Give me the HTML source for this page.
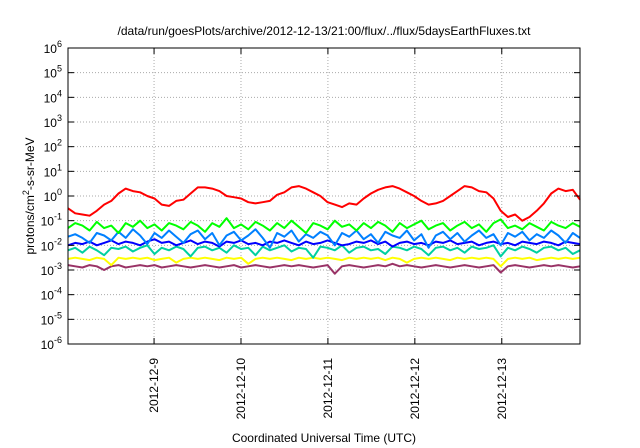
<!DOCTYPE html>
<html><head><meta charset="utf-8"><style>
body{margin:0;background:#fff}
svg{display:block;font-family:"Liberation Sans",sans-serif}
</style></head><body>
<svg id="chart" width="640" height="448">
<text x="324" y="35" text-anchor="middle" font-size="12">/data/run/goesPlots/archive/2012-12-13/21:00/flux/../flux/5daysEarthFluxes.txt</text>
<g id="grid"></g><g id="series"></g><g id="axes"></g>
<text x="324" y="442" text-anchor="middle" font-size="12">Coordinated Universal Time (UTC)</text>
<text transform="translate(34,196) rotate(-90)" text-anchor="middle" font-size="12">protons/cm<tspan dy="-5" font-size="9">2</tspan><tspan dy="5">-s-sr-MeV</tspan></text>
</svg>
<script>
const dayLabels=["2012-12-9","2012-12-10","2012-12-11","2012-12-12","2012-12-13"];
const dayValues=[1,2,3,4,5];
const decades=[-6,-5,-4,-3,-2,-1,0,1,2,3,4,5,6];
const tStart=0.01, tEnd=5.9;
const red=[-0.5,-0.7,-0.75,-0.8,-0.6,-0.35,-0.2,0.1,0.3,0.2,0.15,0.0,-0.1,-0.35,-0.4,-0.2,-0.15,0.1,0.35,0.35,0.3,0.2,0.0,-0.05,-0.1,-0.25,-0.3,-0.25,-0.2,0.05,0.15,0.35,0.4,0.3,0.15,0.0,-0.25,-0.35,-0.45,-0.3,-0.35,-0.1,0.1,0.25,0.35,0.4,0.3,0.15,0.0,-0.2,-0.35,-0.3,-0.2,0.0,0.2,0.4,0.35,0.2,0.15,-0.1,-0.6,-0.85,-0.75,-1.0,-0.85,-0.6,-0.3,0.1,0.3,0.2,0.25,-0.15];
const green=[-1.3,-1.1,-1.2,-1.4,-1.05,-1.3,-1.2,-1.5,-1.1,-1.25,-1.0,-1.3,-1.15,-1.4,-1.1,-1.2,-1.35,-1.05,-1.2,-1.45,-1.1,-1.25,-0.9,-1.3,-1.15,-1.35,-1.05,-1.2,-1.4,-1.1,-1.3,-1.0,-1.25,-1.5,-1.1,-1.2,-1.35,-1.0,-1.25,-1.15,-1.4,-1.1,-1.3,-1.05,-1.2,-1.45,-1.1,-1.3,-1.15,-1.0,-1.35,-1.2,-1.1,-1.4,-1.2,-1.05,-1.3,-1.15,-1.45,-1.1,-0.95,-1.3,-1.2,-1.35,-1.1,-1.25,-1.4,-1.05,-1.2,-1.3,-1.1,-1.25];
const lightBlue=[-1.65,-1.55,-1.7,-1.9,-1.5,-1.6,-1.8,-1.45,-1.7,-1.35,-1.6,-1.95,-1.5,-1.7,-1.4,-1.65,-1.9,-1.55,-1.4,-1.75,-1.5,-2.0,-1.6,-1.45,-1.8,-1.6,-1.35,-1.7,-2.1,-1.5,-1.65,-1.4,-1.85,-1.55,-1.7,-1.45,-1.6,-2.0,-1.5,-1.65,-1.4,-1.75,-1.55,-1.9,-1.45,-1.6,-1.7,-1.4,-1.8,-1.55,-2.1,-1.6,-1.45,-1.75,-1.5,-1.85,-1.6,-1.4,-1.7,-1.55,-2.0,-1.5,-1.65,-1.45,-1.8,-1.55,-1.7,-1.4,-1.6,-1.9,-1.5,-1.7];
const blue=[-2.0,-1.9,-1.95,-1.85,-2.0,-1.9,-1.8,-1.95,-1.85,-1.9,-2.0,-1.85,-1.75,-1.9,-1.85,-2.0,-1.9,-1.8,-1.95,-1.85,-1.9,-2.05,-1.85,-1.9,-1.8,-1.95,-1.9,-2.0,-1.85,-1.9,-1.8,-1.9,-2.0,-1.85,-1.95,-1.9,-1.8,-1.9,-2.0,-1.95,-1.85,-1.9,-1.8,-1.95,-1.85,-2.05,-1.9,-1.85,-1.95,-1.9,-2.0,-1.85,-1.9,-1.8,-1.95,-1.9,-1.85,-2.0,-1.9,-1.85,-1.95,-1.9,-2.0,-1.85,-1.9,-1.95,-1.85,-1.9,-2.0,-1.85,-1.9,-1.95];
const teal=[-2.2,-2.1,-2.3,-2.05,-2.2,-2.4,-2.1,-2.15,-2.05,-2.25,-2.1,-2.0,-2.35,-2.1,-2.2,-2.05,-2.15,-2.45,-2.1,-2.05,-2.2,-2.1,-2.3,-2.0,-2.15,-2.1,-2.4,-2.05,-2.2,-2.1,-2.0,-2.25,-2.1,-2.15,-2.5,-2.05,-2.1,-2.2,-2.0,-2.3,-2.1,-2.05,-2.2,-2.15,-2.35,-2.05,-2.1,-2.2,-2.05,-2.15,-2.4,-2.1,-2.05,-2.2,-2.1,-2.3,-2.05,-2.15,-2.1,-2.0,-2.45,-2.1,-2.2,-2.05,-2.15,-2.3,-2.1,-2.05,-2.2,-2.1,-2.35,-2.2];
const yellow=[-2.55,-2.5,-2.55,-2.6,-2.5,-2.55,-2.8,-2.5,-2.55,-2.5,-2.55,-2.5,-2.6,-2.55,-2.5,-2.7,-2.55,-2.5,-2.55,-2.5,-2.55,-2.6,-2.5,-2.55,-2.5,-2.75,-2.55,-2.5,-2.55,-2.5,-2.55,-2.6,-2.5,-2.55,-2.5,-2.55,-2.5,-2.55,-2.6,-2.5,-2.55,-2.5,-2.55,-2.5,-2.6,-2.5,-2.55,-2.7,-2.55,-2.5,-2.55,-2.5,-2.55,-2.6,-2.5,-2.55,-2.5,-2.55,-2.5,-2.55,-2.85,-2.55,-2.5,-2.55,-2.5,-2.6,-2.55,-2.5,-2.55,-2.5,-2.55,-2.5];
const purple=[-2.8,-2.85,-2.9,-2.8,-2.85,-3.0,-2.85,-2.8,-2.9,-2.85,-2.8,-2.85,-2.8,-2.9,-2.85,-2.8,-2.85,-2.9,-2.85,-2.8,-2.85,-2.9,-2.85,-2.8,-2.9,-2.85,-2.8,-2.85,-2.9,-2.85,-2.8,-2.85,-2.8,-2.85,-2.9,-2.85,-2.8,-3.15,-2.85,-2.8,-2.85,-2.9,-2.85,-2.8,-2.85,-2.75,-2.85,-2.8,-2.85,-2.9,-2.85,-2.8,-2.85,-2.9,-2.85,-2.8,-2.85,-2.9,-2.85,-2.8,-3.1,-2.85,-2.8,-2.85,-2.9,-2.85,-2.8,-2.85,-2.8,-2.85,-2.9,-2.85];
const L=68,R=580,T=48,B=344;
const NS="http://www.w3.org/2000/svg";
function xs(t){return L+(t-tStart)/(tEnd-tStart)*(R-L);}
function ys(lg){return B-(lg+6)/12*(B-T);}
function mk(tag,attrs,parent){const e=document.createElementNS(NS,tag);for(const k in attrs)e.setAttribute(k,attrs[k]);parent.appendChild(e);return e;}
const grid=document.getElementById('grid'),axes=document.getElementById('axes'),ser=document.getElementById('series');
decades.forEach(d=>{const y=ys(d);
 if(d>-6&&d<6){const g=mk('line',{x1:L,x2:R,y1:y,y2:y,stroke:'#aaa','stroke-dasharray':'1,2','stroke-width':1},grid);
 
 }
 mk('line',{x1:L,x2:L+6,y1:y,y2:y,stroke:'#000'},axes);
 mk('line',{x1:R-6,x2:R,y1:y,y2:y,stroke:'#000'},axes);
 const tx=mk('text',{x:L-6,y:y+5,'text-anchor':'end','font-size':12},axes);
 
 
 tx.innerHTML='10<tspan dy="-6" font-size="9">'+d+'</tspan>';
});
dayValues.forEach((d,i)=>{const x=xs(d);
 const g=mk('line',{x1:x,x2:x,y1:T,y2:B,stroke:'#aaa','stroke-dasharray':'1,2'},grid);
 
 
 mk('line',{x1:x,x2:x,y1:B-6,y2:B,stroke:'#000'},axes);
 mk('line',{x1:x,x2:x,y1:T,y2:T+6,stroke:'#000'},axes);
 const tx=mk('text',{transform:'translate('+(x+4)+','+(B+14)+') rotate(-90)','text-anchor':'end','font-size':12},axes);
 
 
 tx.textContent=dayLabels[i];
});
const fr=mk('rect',{x:L,y:T,width:R-L,height:B-T,fill:'none',stroke:'#000','stroke-width':1},axes);


const list=[[purple,'#993366','purple-series'],[yellow,'#ffff00','yellow-series'],[teal,'#00d0a0','teal-series'],[blue,'#0000ff','blue-series'],[lightBlue,'#0080ff','light-blue-series'],[green,'#00ff00','green-series'],[red,'#ff0000','red-series']];
list.forEach(([arr,c,n])=>{const n1=arr.length-1;
 const pts=arr.map((v,i)=>xs(tStart+i*(tEnd-tStart)/n1).toFixed(1)+','+ys(v).toFixed(1)).join(' ');
 const p=mk('polyline',{points:pts,fill:'none',stroke:c,'stroke-width':2,'stroke-linejoin':'round'},ser);
 
 
});
</script>
</body></html>
